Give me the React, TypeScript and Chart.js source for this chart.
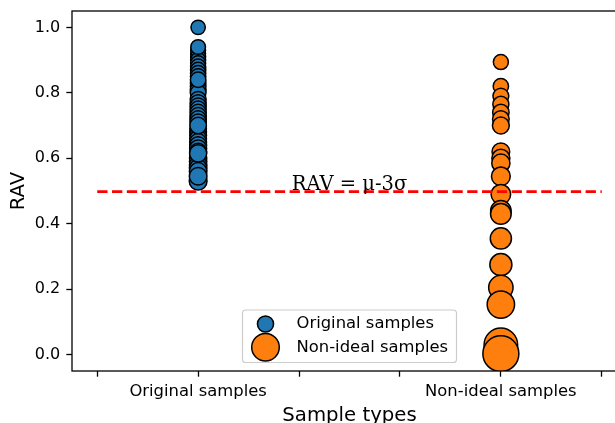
import { useEffect, useRef } from "react";
import { Chart, registerables } from "chart.js";

Chart.register(...registerables);

// ---- data ----
const categories = ["Original samples", "Non-ideal samples"];
const categoryPositions = [1, 4];
const xTickValues = [0, 1, 2, 3, 4, 5];
const yTickValues = [0, 0.2, 0.4, 0.6, 0.8, 1.0];

const originalRAV = [
  1.0, 0.93, 0.92, 0.91, 0.9, 0.89, 0.88, 0.87, 0.86, 0.85, 0.83, 0.82, 0.81, 0.8,
  0.78, 0.77, 0.76, 0.75, 0.74, 0.73, 0.72, 0.71, 0.69, 0.68, 0.67, 0.66, 0.65,
  0.64, 0.63, 0.62, 0.6, 0.59, 0.58, 0.57, 0.56, 0.53, 0.94, 0.84, 0.7, 0.615, 0.545,
];
const originalMarkerArea = [
  60, 64, 64, 65, 66, 66, 67, 68, 68, 69, 70, 71, 72, 72,
  74, 74, 75, 76, 77, 77, 78, 79, 80, 81, 82, 82, 83,
  84, 85, 85, 87, 88, 88, 89, 90, 92, 63, 70, 80, 86, 91,
];

const nonIdealRAV = [
  0.894, 0.82, 0.79, 0.765, 0.74, 0.72, 0.7, 0.62, 0.6, 0.585, 0.545, 0.49, 0.44,
  0.43, 0.355, 0.275, 0.205, 0.153, 0.03, 0.003,
];
const nonIdealMarkerArea = [
  66, 69, 73, 75, 79, 81, 83, 91, 95, 97, 103, 112, 122, 124, 131, 142, 174, 219,
  330, 379,
];

const thresholdRAV = 0.498;
const thresholdLabel = "RAV = μ-3σ";
const xAxisTitle = "Sample types";
const yAxisTitle = "RAV";

// ---- styling ----
const PX_PER_PT = 118 / 72;
const BLUE = "#1f77b4";
const ORANGE = "#ff7f0e";
const SANS = "DejaVu Sans";

const radiusFromArea = (a: number) => Math.sqrt(a / Math.PI) * PX_PER_PT;
const legendArea = (arr: number[]) => (Math.max(...arr) + Math.min(...arr)) / 2;

const zeroPadding = (s: any) => {
  s.paddingTop = 0;
  s.paddingBottom = 0;
  s.paddingLeft = 0;
  s.paddingRight = 0;
};

const overlayPlugin = {
  id: "overlay",
  afterDatasetsDraw(chart: any) {
    const { ctx, chartArea, scales } = chart;
    const xs = scales.x;
    const ys = scales.y;
    ctx.save();
    ctx.font = `19.5px "DejaVu Serif"`;
    ctx.fillStyle = "#000";
    ctx.textAlign = "center";
    ctx.textBaseline = "alphabetic";
    const midX = (xTickValues[0] + xTickValues[xTickValues.length - 1]) / 2;
    ctx.fillText(thresholdLabel, xs.getPixelForValue(midX), ys.getPixelForValue(thresholdRAV) - 2);
    ctx.strokeStyle = "#000";
    ctx.lineWidth = 1.3;
    ctx.strokeRect(chartArea.left, chartArea.top, chartArea.right - chartArea.left, chartArea.bottom - chartArea.top);
    ctx.restore();
  },
  afterDraw(chart: any) {
    const { ctx, chartArea } = chart;
    const w = 214;
    const h = 52.5;
    const cx = (chartArea.left + chartArea.right) / 2;
    const bottom = chartArea.bottom - 8.5;
    const left = cx - w / 2;
    const top = bottom - h;
    ctx.save();
    const r = 3.3;
    ctx.beginPath();
    ctx.moveTo(left + r, top);
    ctx.lineTo(left + w - r, top);
    ctx.quadraticCurveTo(left + w, top, left + w, top + r);
    ctx.lineTo(left + w, top + h - r);
    ctx.quadraticCurveTo(left + w, top + h, left + w - r, top + h);
    ctx.lineTo(left + r, top + h);
    ctx.quadraticCurveTo(left, top + h, left, top + h - r);
    ctx.lineTo(left, top + r);
    ctx.quadraticCurveTo(left, top, left + r, top);
    ctx.closePath();
    ctx.fillStyle = "rgba(255,255,255,0.8)";
    ctx.fill();
    ctx.strokeStyle = "#cccccc";
    ctx.lineWidth = 1.2;
    ctx.stroke();

    const rows = [
      { label: categories[0], color: BLUE, area: legendArea(originalMarkerArea), y: top + 14 },
      { label: categories[1], color: ORANGE, area: legendArea(nonIdealMarkerArea), y: top + 37.3 },
    ];
    ctx.font = `16.4px "${SANS}"`;
    ctx.textAlign = "left";
    ctx.textBaseline = "middle";
    for (const row of rows) {
      ctx.beginPath();
      ctx.arc(left + 23, row.y, radiusFromArea(row.area), 0, Math.PI * 2);
      ctx.fillStyle = row.color;
      ctx.fill();
      ctx.strokeStyle = "#000";
      ctx.lineWidth = 1.5;
      ctx.stroke();
      ctx.fillStyle = "#000";
      ctx.fillText(row.label, left + 54, row.y);
    }
    ctx.restore();
  },
};

export default function App() {
  const ref = useRef<HTMLCanvasElement | null>(null);

  useEffect(() => {
    if (!ref.current) return;
    const chart = new Chart(ref.current, {
      type: "scatter",
      data: {
        datasets: [
          {
            type: "line",
            label: "threshold",
            data: [
              { x: xTickValues[0], y: thresholdRAV },
              { x: xTickValues[xTickValues.length - 1], y: thresholdRAV },
            ],
            borderColor: "#ff0000",
            borderWidth: 2.7,
            borderDash: [10.3, 4.5],
            borderCapStyle: "butt",
            pointRadius: 0,
            fill: false,
            order: 0,
          } as any,
          {
            label: categories[1],
            data: nonIdealRAV.map((v) => ({ x: categoryPositions[1], y: v })),
            backgroundColor: ORANGE,
            borderColor: "#000",
            borderWidth: 1.5,
            pointRadius: nonIdealMarkerArea.map(radiusFromArea),
            pointHoverRadius: nonIdealMarkerArea.map(radiusFromArea),
            clip: 0,
            order: 1,
          } as any,
          {
            label: categories[0],
            data: originalRAV.map((v) => ({ x: categoryPositions[0], y: v })),
            backgroundColor: BLUE,
            borderColor: "#000",
            borderWidth: 1.5,
            pointRadius: originalMarkerArea.map(radiusFromArea),
            pointHoverRadius: originalMarkerArea.map(radiusFromArea),
            clip: 0,
            order: 2,
          } as any,
        ],
      },
      options: {
        responsive: false,
        maintainAspectRatio: false,
        devicePixelRatio: 1,
        animation: false,
        events: [],
        layout: { autoPadding: false, padding: { left: 0, top: 11, right: 13, bottom: 0 } },
        plugins: { legend: { display: false }, tooltip: { enabled: false } },
        scales: {
          x: {
            type: "linear",
            min: -0.25,
            max: 5.25,
            afterBuildTicks: (s: any) => {
              s.ticks = xTickValues.map((v) => ({ value: v }));
            },
            afterFit: (s: any) => {
              s.height = 52;
              zeroPadding(s);
            },
            ticks: {
              autoSkip: false,
              maxRotation: 0,
              minRotation: 0,
              padding: 5,
              color: "#000",
              font: { family: SANS, size: 16.4 },
              callback: (v: any) => {
                const i = categoryPositions.indexOf(Number(v));
                return i >= 0 ? categories[i] : "";
              },
            },
            grid: {
              drawOnChartArea: false,
              drawTicks: true,
              tickLength: 5.7,
              tickWidth: 1.3,
              tickColor: "#000",
            },
            border: { display: false },
            title: {
              display: true,
              text: xAxisTitle,
              color: "#000",
              font: { family: SANS, size: 19.7, lineHeight: 1.2 },
              padding: { top: 0, bottom: -5 },
            },
          },
          y: {
            type: "linear",
            min: -0.05,
            max: 1.05,
            afterBuildTicks: (s: any) => {
              s.ticks = yTickValues.map((v) => ({ value: v }));
            },
            afterFit: (s: any) => {
              s.width = 72;
              zeroPadding(s);
            },
            ticks: {
              padding: 6,
              color: "#000",
              font: { family: SANS, size: 16 },
              callback: (v: any) => Number(v).toFixed(1),
            },
            grid: {
              drawOnChartArea: false,
              drawTicks: true,
              tickLength: 5.7,
              tickWidth: 1.3,
              tickColor: "#000",
            },
            border: { display: false },
            title: {
              display: true,
              text: yAxisTitle,
              color: "#000",
              font: { family: SANS, size: 19.7, lineHeight: 1.2 },
              padding: { top: 7, bottom: 0 },
            },
          },
        },
      } as any,
      plugins: [overlayPlugin],
    });
    return () => chart.destroy();
  }, []);

  return (
    <div
      style={{
        position: "fixed",
        left: 0,
        top: 0,
        width: 615,
        height: 423,
        overflow: "hidden",
        background: "#fff",
      }}
    >
      <canvas ref={ref} width={640} height={423} style={{ display: "block", width: 640, height: 423 }} />
    </div>
  );
}
